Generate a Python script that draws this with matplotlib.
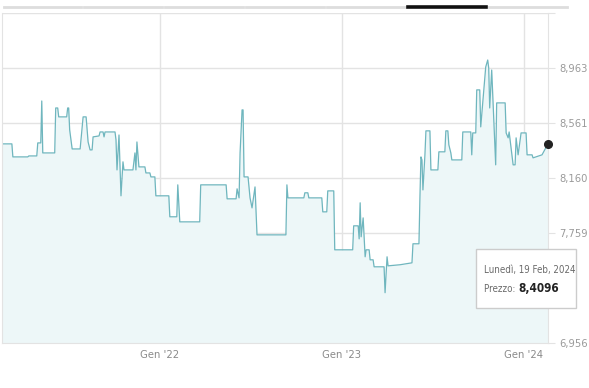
import pandas as pd
import matplotlib.pyplot as plt
from matplotlib.patches import Rectangle
from matplotlib.lines import Line2D
from matplotlib import font_manager

inizio = pd.Timestamp("2021-02-19")
giorni = [0, 19, 21, 51, 53, 69, 71, 77, 79, 81, 105, 107, 111, 113, 129, 131, 133, 135, 140, 156,
          162, 168, 172, 176, 180, 182, 194, 196, 202, 204, 206, 226, 228, 230, 234, 238, 242, 244,
          262, 266, 268, 270, 274, 286, 288, 296, 298, 306, 308, 334, 336, 350, 352, 356, 396, 398,
          449, 451, 469, 471, 475, 477, 481, 483, 485, 493, 497, 501, 507, 511, 569, 571, 573, 605,
          607, 613, 615, 641, 643, 651, 653, 665, 667, 703, 705, 714, 716, 718, 720, 724, 728, 730,
          736, 738, 744, 746, 766, 768, 772, 774, 798, 822, 824, 836, 838, 840, 842, 844, 848, 850,
          858, 860, 874, 876, 888, 890, 894, 896, 900, 902, 922, 924, 940, 942, 944, 950, 952, 958,
          960, 970, 974, 976, 978, 982, 990, 992, 1009, 1011, 1015, 1017, 1025, 1029, 1031, 1035,
          1041, 1051, 1053, 1063, 1065, 1083, 1095]
prezzi = [8.409, 8.409, 8.314, 8.314, 8.321, 8.321, 8.416, 8.416, 8.722, 8.343, 8.343, 8.671, 8.671,
          8.606, 8.606, 8.671, 8.671, 8.511, 8.372, 8.372, 8.606, 8.606, 8.423, 8.365, 8.365, 8.460,
          8.467, 8.496, 8.496, 8.460, 8.496, 8.496, 8.438, 8.219, 8.474, 8.030, 8.278, 8.219, 8.219,
          8.343, 8.219, 8.423, 8.241, 8.241, 8.197, 8.197, 8.168, 8.168, 8.030, 8.030, 7.877, 7.877,
          8.110, 7.840, 7.840, 8.110, 8.110, 8.008, 8.008, 8.081, 8.015, 8.343, 8.657, 8.657, 8.168,
          8.168, 8.015, 7.942, 8.095, 7.745, 7.745, 8.110, 8.015, 8.015, 8.052, 8.052, 8.015, 8.015,
          7.913, 7.913, 8.066, 8.066, 7.636, 7.636, 7.811, 7.811, 7.716, 7.979, 7.731, 7.869, 7.585,
          7.636, 7.636, 7.563, 7.563, 7.512, 7.512, 7.323, 7.585, 7.519, 7.527, 7.541, 7.680, 7.680,
          8.022, 8.314, 8.292, 8.073, 8.329, 8.504, 8.504, 8.219, 8.219, 8.351, 8.351, 8.504, 8.504,
          8.402, 8.343, 8.292, 8.292, 8.496, 8.496, 8.329, 8.489, 8.489, 8.803, 8.803, 8.533, 8.970,
          9.021, 8.963, 8.671, 8.948, 8.256, 8.708, 8.708, 8.489, 8.453, 8.496, 8.256, 8.256, 8.453,
          8.329, 8.489, 8.489, 8.329, 8.329, 8.307, 8.329, 8.4096]

tick_y = [6.956, 7.357, 7.759, 8.160, 8.561, 8.963, 9.364]
etichette_y = ["6,956", "", "7,759", "8,160", "8,561", "8,963", ""]
tick_x = ["2022-01-01", "2023-01-01", "2024-01-01"]
etichette_x = ["Gen '22", "Gen '23", "Gen '24"]

# font stretto se c'e', altrimenti Roboto
fp = font_manager.FontProperties(family="DejaVu Sans", stretch="condensed")
if "Condensed" in font_manager.findfont(fp, fallback_to_default=False):
    plt.rcParams["font.family"] = ["DejaVu Sans"]
    plt.rcParams["font.stretch"] = "condensed"
    fs, fs_tip = 8, 7
else:
    plt.rcParams["font.family"] = ["Roboto", "DejaVu Sans"]
    fs, fs_tip = 7.5, 6.5

date = inizio + pd.to_timedelta(giorni, unit="D")
W, H = 589, 388

def fx(x):
    return x / W

def fy(y):
    return 1 - y / H

fig = plt.figure(figsize=(W / 100, H / 100), dpi=100)
ax = fig.add_axes([fx(2.4), fy(343), fx(548) - fx(2.4), fy(13) - fy(343)])

ax.fill_between(date, prezzi, tick_y[0], color="#edf7f8", lw=0)
ax.plot(date, prezzi, color="#6fb6be", lw=0.9)
ax.plot(date[-1], prezzi[-1], "o", color="#222222", ms=5.5, clip_on=False, zorder=5)

ax.set_xlim(date[0], date[-1])
ax.set_ylim(tick_y[0], tick_y[-1])

ax.set_yticks(tick_y)
ax.set_yticklabels(etichette_y)
ax.set_xticks(pd.to_datetime(tick_x))
ax.set_xticklabels(etichette_x)

ax.yaxis.tick_right()
ax.tick_params(axis="y", length=5, color="#e3e3e3", pad=3, labelsize=fs, labelcolor="#9a9a9a")
ax.tick_params(axis="x", length=0, pad=5, labelsize=fs, labelcolor="#8a8a8a")
ax.grid(True, color="#e3e3e3", lw=1)
ax.set_axisbelow(True)
for lato in ["left", "right", "bottom"]:
    ax.spines[lato].set_color("#e3e3e3")
ax.spines["top"].set_visible(False)

# barra di selezione periodo in alto
n_seg = 7
attivo = 5
larg = 566 / n_seg
for i in range(n_seg):
    x0 = 2 + i * larg + 1.5
    x1 = 2 + (i + 1) * larg - 1.5
    col = "#111111" if i == attivo else "#dddddd"
    lw = 2.6 if i == attivo else 2
    fig.add_artist(Line2D([fx(x0), fx(x1)], [fy(7), fy(7)], color=col, lw=lw,
                          transform=fig.transFigure))

# tooltip
fig.add_artist(Rectangle((fx(476), fy(308)), fx(576) - fx(476), fy(249) - fy(308),
                         transform=fig.transFigure, facecolor="white", edgecolor="#cccccc",
                         lw=1, zorder=10))
fig.text(fx(484), fy(270), "Lunedì, 19 Feb, 2024", color="#6a6a6a", fontsize=fs_tip,
         va="center", ha="left", zorder=11)
t = fig.text(fx(484), fy(289), "Prezzo: ", color="#6a6a6a", fontsize=fs_tip,
             va="center", ha="left", zorder=11)
fig.canvas.draw()
bb = t.get_window_extent()
fig.text(bb.x1 / W, fy(289), "8,4096", color="#222222", fontsize=fs_tip + 1.5, fontweight="bold",
         va="center", ha="left", zorder=11)

fig.savefig("out.png", dpi=100)
